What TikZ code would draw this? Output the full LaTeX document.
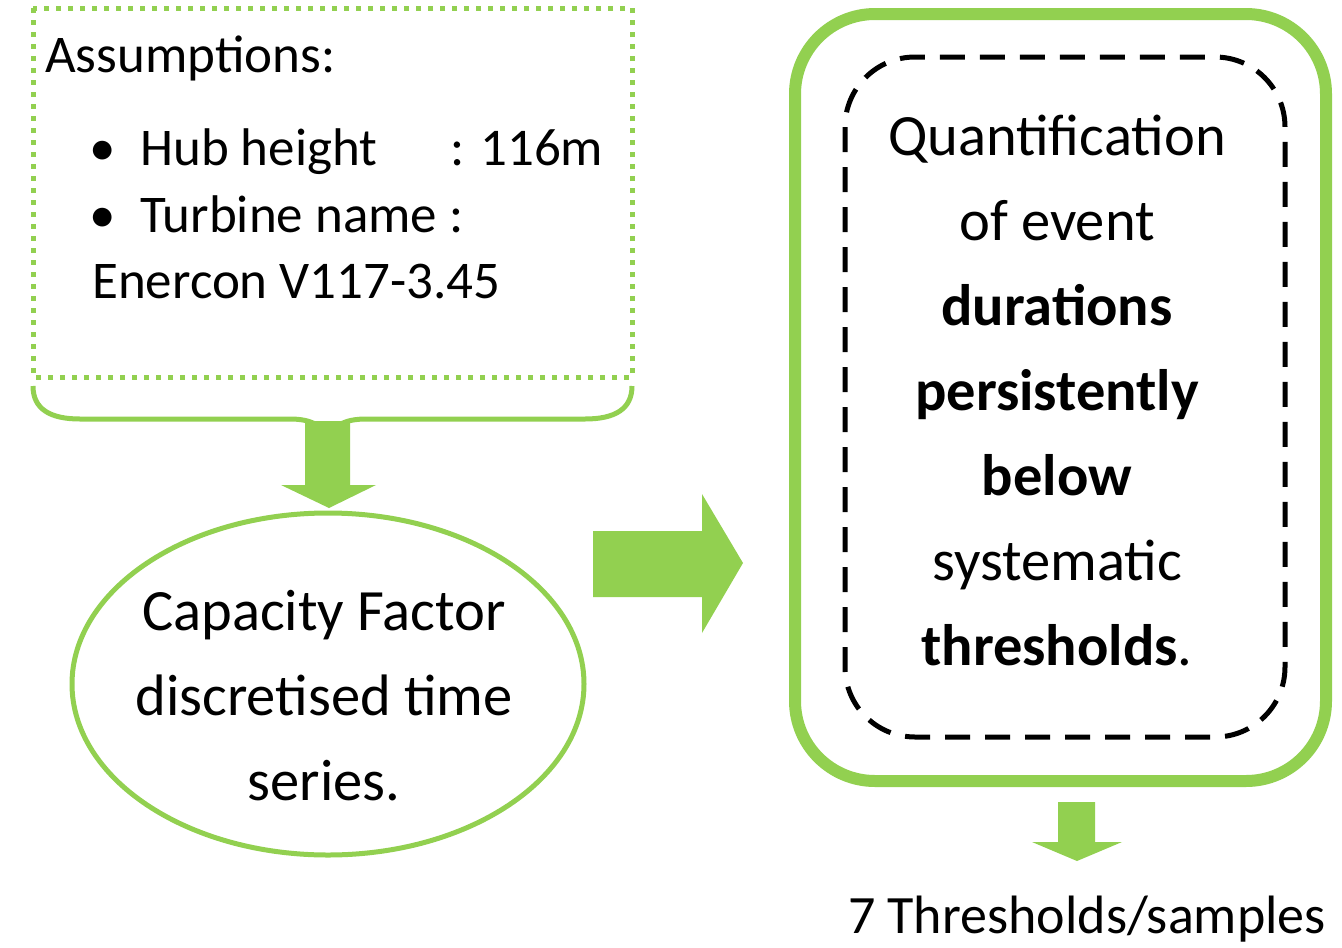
\documentclass[tikz,border=0pt]{standalone}
\usepackage{fontspec}
\setmainfont{Carlito}
\usetikzlibrary{shapes.geometric}
\definecolor{leaf}{HTML}{92D050}
\tikzset{
  txt/.style={inner sep=0pt, anchor=base, font=\fontsize{53}{60}\selectfont},
  big/.style={txt, font=\fontsize{58.5}{66}\selectfont},
  txtw/.style={txt, anchor=base west},
  leafarrow/.style={fill=leaf, draw=none},
}
\begin{document}
\begin{tikzpicture}[x=1pt, y=-1pt]
\useasboundingbox (0,0) rectangle (1342,948);

% assumptions box
\draw[leaf, line width=5pt, dash pattern=on 5pt off 7pt] (33,8) rectangle (632,377);
\node[txtw] (ass) at (45,72) {Assumptions:};
\node[txt] (b1) at (103,165) {•};
\node[txtw] (hub) at (140,165) {Hub height};
\node[txtw] (hubv) at (450,165) {: 116m};
\node[txt] (b2) at (103,232) {•};
\node[txtw] (turb) at (140,232) {Turbine name :};
\node[txtw] (ener) at (92,298) {Enercon V117-3.45};

% brace under the box
\draw[leaf, line width=5pt]
  (33,386) .. controls (33,409) and (50,419) .. (80,419)
  -- (290,419) .. controls (310,419) and (322,425) .. (328,437);
\draw[leaf, line width=5pt]
  (632,386) .. controls (632,409) and (615,419) .. (585,419)
  -- (366,419) .. controls (346,419) and (334,425) .. (328,437);

% arrow into the ellipse
\fill[leafarrow] (305,421) -- (350,421) -- (350,485) -- (376,485)
  -- (329,508) -- (281,485) -- (305,485) -- cycle;

% capacity factor ellipse
\node[ellipse, draw=leaf, line width=5pt, minimum width=512pt, minimum height=342pt, inner sep=0pt]
  (cf) at (328,684) {};
\node[big] (cf1) at (324,630) {Capacity Factor};
\node[big] (cf2) at (324,715) {discretised time};
\node[big] (cf3) at (324,800) {series.};

% arrow to the right
\fill[leafarrow] (593,531) -- (702,531) -- (702,494) -- (743,563)
  -- (702,633) -- (702,597) -- (593,597) -- cycle;

% quantification box
\draw[leaf, line width=12pt, rounded corners=80pt] (795,14) rectangle (1326,781);
\draw[black, line width=5pt, dash pattern=on 25pt off 15pt, rounded corners=70pt]
  (845,57) rectangle (1285,737);
\node[big] (q1) at (1057,155) {Quantification};
\node[big] (q2) at (1057,240) {of event};
\node[big] (q3) at (1057,325) {\bfseries durations};
\node[big] (q4) at (1057,410) {\bfseries persistently};
\node[big] (q5) at (1057,495) {\bfseries below};
\node[big] (q6) at (1057,580) {systematic};
\node[big] (q7) at (1057,665) {\textbf{thresholds}.};

% output arrow and label
\fill[leafarrow] (1058,802) -- (1095,802) -- (1095,842) -- (1122,842)
  -- (1077,861) -- (1032,842) -- (1058,842) -- cycle;
\node[txt, font=\fontsize{54}{60}\selectfont] (out) at (1087,933) {7 Thresholds/samples};
\end{tikzpicture}
\end{document}
